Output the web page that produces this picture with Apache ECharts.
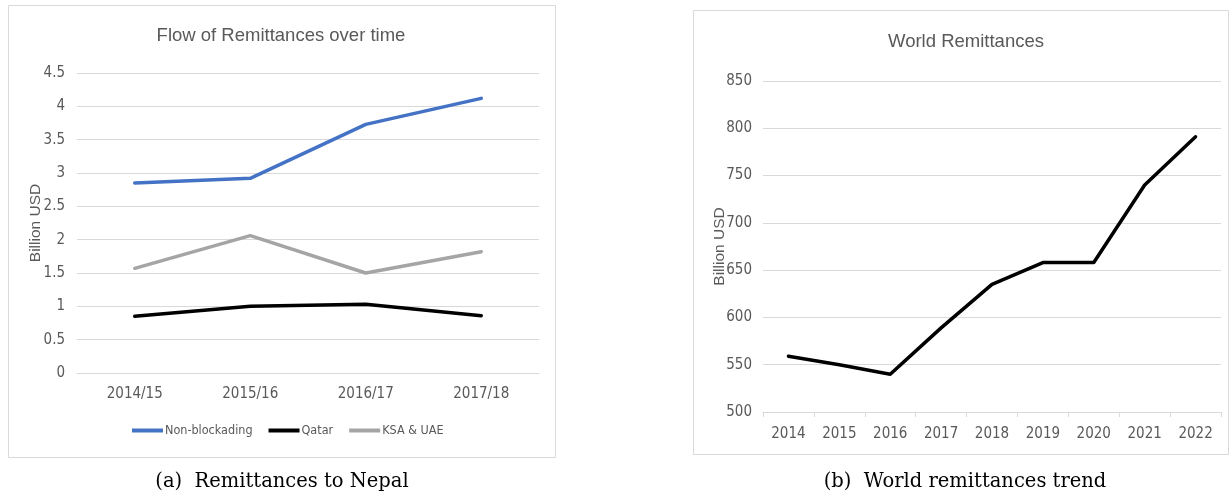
<!DOCTYPE html>
<html>
<head>
<meta charset="utf-8">
<script src="https://cdn.jsdelivr.net/npm/echarts@6/dist/echarts.min.js"></script>
<style>
  html, body { margin: 0; padding: 0; background: #ffffff; }
  #chart { width: 1230px; height: 495px; }
</style>
</head>
<body>
<div id="chart"></div>
<script>
// ---- Data: Remittances to Nepal ----
const nepalCategories = ['2014/15', '2015/16', '2016/17', '2017/18'];
const nonBlockading = [2.85, 2.92, 3.73, 4.12];
const qatar = [0.85, 1.00, 1.03, 0.86];
const ksaUae = [1.57, 2.06, 1.50, 1.82];
const nepalYTicks = { min: 0, max: 4.5, interval: 0.5 };

// ---- Data: World remittances ----
const worldYears = ['2014', '2015', '2016', '2017', '2018', '2019', '2020', '2021', '2022'];
const worldValues = [559, 550, 540, 589, 635, 658, 658, 740, 791];
const worldYTicks = { min: 500, max: 850, interval: 50 };

// ---- Text ----
const titleA = 'Flow of Remittances over time';
const titleB = 'World Remittances';
const captionA = '(a)  Remittances to Nepal';
const captionB = '(b)  World remittances trend';
const yName = 'Billion USD';

const GRAY_TEXT = '#595959';
const GRID = '#d9d9d9';
const NARROW = '"Liberation Sans Narrow", "DejaVu Sans Condensed", "Liberation Sans", sans-serif';
const SANS = '"Liberation Sans", Arial, sans-serif';
const SERIF = '"DejaVu Serif", "Liberation Serif", serif';

const chart = echarts.init(document.getElementById('chart'), null, { renderer: 'canvas' });

const lineStyle = (color) => ({ color: color, width: 3.5, cap: 'round', join: 'round' });

const option = {
  animation: false,
  backgroundColor: '#ffffff',
  grid: [
    { left: 77, right: 691, top: 73, bottom: 122 },
    { left: 763, right: 9, top: 81, bottom: 83 }
  ],
  legend: {
    left: 132,
    top: 424,
    padding: 0,
    itemWidth: 31,
    itemHeight: 4,
    itemGap: 16,
    icon: 'rect',
    textStyle: { fontFamily: NARROW, fontSize: 12.5, color: GRAY_TEXT, padding: [0, 0, 0, -3] },
    data: ['Non-blockading', 'Qatar', 'KSA & UAE']
  },
  xAxis: [
    {
      gridIndex: 0,
      type: 'category',
      data: nepalCategories,
      boundaryGap: true,
      axisLine: { show: true, lineStyle: { color: GRID, width: 1 } },
      axisTick: { show: false },
      axisLabel: { margin: 14, fontFamily: NARROW, fontSize: 15, color: GRAY_TEXT }
    },
    {
      gridIndex: 1,
      type: 'category',
      data: worldYears,
      boundaryGap: true,
      axisLine: { show: true, lineStyle: { color: GRID, width: 1 } },
      axisTick: { show: true, length: 5, lineStyle: { color: GRID } },
      axisLabel: { margin: 15, fontFamily: NARROW, fontSize: 15, color: GRAY_TEXT }
    }
  ],
  yAxis: [
    {
      gridIndex: 0,
      type: 'value',
      min: nepalYTicks.min,
      max: nepalYTicks.max,
      interval: nepalYTicks.interval,
      name: yName,
      nameLocation: 'middle',
      nameGap: 33,
      nameMoveOverlap: false,
      nameTextStyle: { fontFamily: SANS, fontSize: 15.5, color: GRAY_TEXT },
      axisLine: { show: false },
      axisTick: { show: false },
      splitLine: { show: true, lineStyle: { color: GRID, width: 1 } },
      axisLabel: { margin: 12, fontFamily: NARROW, fontSize: 15, color: GRAY_TEXT }
    },
    {
      gridIndex: 1,
      type: 'value',
      min: worldYTicks.min,
      max: worldYTicks.max,
      interval: worldYTicks.interval,
      name: yName,
      nameLocation: 'middle',
      nameGap: 35,
      nameMoveOverlap: false,
      nameTextStyle: { fontFamily: SANS, fontSize: 15.5, color: GRAY_TEXT },
      axisLine: { show: false },
      axisTick: { show: false },
      splitLine: { show: true, lineStyle: { color: GRID, width: 1 } },
      axisLabel: { margin: 11, fontFamily: NARROW, fontSize: 15, color: GRAY_TEXT }
    }
  ],
  series: [
    {
      name: 'Non-blockading', type: 'line', xAxisIndex: 0, yAxisIndex: 0,
      data: nonBlockading, showSymbol: false, symbol: 'none',
      itemStyle: { color: '#4472c4' }, lineStyle: lineStyle('#4472c4')
    },
    {
      name: 'Qatar', type: 'line', xAxisIndex: 0, yAxisIndex: 0,
      data: qatar, showSymbol: false, symbol: 'none',
      itemStyle: { color: '#000000' }, lineStyle: lineStyle('#000000')
    },
    {
      name: 'KSA & UAE', type: 'line', xAxisIndex: 0, yAxisIndex: 0,
      data: ksaUae, showSymbol: false, symbol: 'none',
      itemStyle: { color: '#a5a5a5' }, lineStyle: lineStyle('#a5a5a5')
    },
    {
      name: 'World', type: 'line', xAxisIndex: 1, yAxisIndex: 1,
      data: worldValues, showSymbol: false, symbol: 'none',
      itemStyle: { color: '#000000' }, lineStyle: lineStyle('#000000')
    }
  ],
  graphic: [
    { type: 'rect', shape: { x: 8.5, y: 5.5, width: 547, height: 452 }, style: { fill: 'none', stroke: GRID, lineWidth: 1 }, silent: true, z: -1 },
    { type: 'rect', shape: { x: 693.5, y: 10.5, width: 535, height: 444 }, style: { fill: 'none', stroke: GRID, lineWidth: 1 }, silent: true, z: -1 },
    { type: 'text', x: 281, y: 36, style: { text: titleA, fill: GRAY_TEXT, font: '18.5px ' + SANS, textAlign: 'center', textVerticalAlign: 'middle' } },
    { type: 'text', x: 966, y: 42, style: { text: titleB, fill: GRAY_TEXT, font: '18.5px ' + SANS, textAlign: 'center', textVerticalAlign: 'middle' } },
    { type: 'text', x: 282, y: 482, style: { text: captionA, fill: '#000000', font: '19.5px ' + SERIF, textAlign: 'center', textVerticalAlign: 'middle' } },
    { type: 'text', x: 965, y: 482, style: { text: captionB, fill: '#000000', font: '19.5px ' + SERIF, textAlign: 'center', textVerticalAlign: 'middle' } }
  ]
};

chart.setOption(option);
</script>
</body>
</html>
